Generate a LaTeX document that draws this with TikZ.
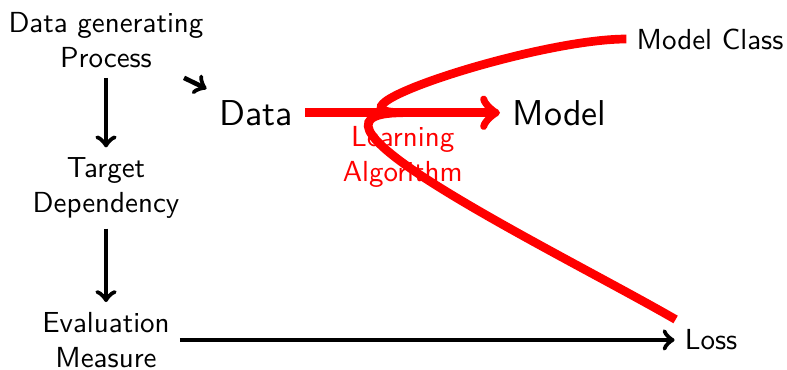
\documentclass[tikz,border=0pt]{standalone}
\usepackage{tikz}
\renewcommand{\familydefault}{\sfdefault}

\begin{document}
\begin{tikzpicture}[
    box/.style={align=center},
    big/.style={scale=1.24},
    link/.style={->,ultra thick},
    learn/.style={red,line width=3pt}]
    \useasboundingbox (0,0) rectangle (9.54,4.485);
    % Left column
    \node[box] (gen) at (1.285,4.0) {Data generating\\Process};
    \node[box] (target) at (1.285,2.206) {Target\\Dependency};
    \node[box] (eval) at (1.285,0.364) {Evaluation\\Measure};
    % Data and model
    \node[big] (data) at (3.103,3.118) {Data};
    \node[big] (model) at (6.782,3.118) {Model};
    % Right column
    \node (class) at (8.607,4.012) {Model Class};
    \node (loss) at (8.619,0.364) {Loss};
    % Arrows
    \draw[link] (gen) -- (target);
    \draw[link] (target) -- (eval);
    \draw[link] (gen) -- (data);
    \draw[link] (eval) -- (loss);
    \draw[learn,->] (data) -- coordinate[midway] (mid)
        node[midway,below,box] (alg) {Learning\\Algorithm} (model);
    % Model class and loss both feed the learner
    \draw[learn] (class) to[out=180,in=180] (mid) to[out=180,in=150] (loss);
\end{tikzpicture}
\end{document}
